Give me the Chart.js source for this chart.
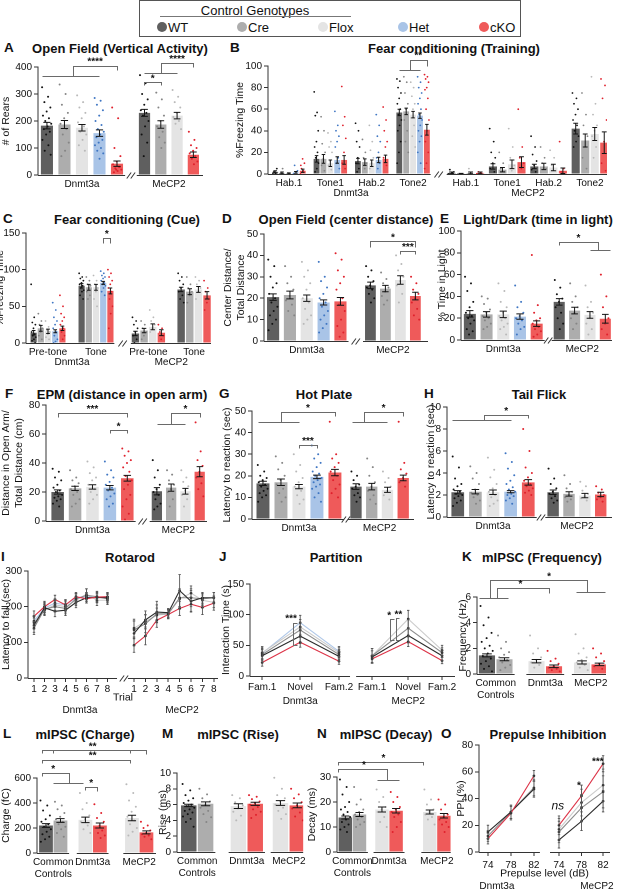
<!DOCTYPE html>
<html><head><meta charset="utf-8">
<script src="https://cdn.jsdelivr.net/npm/chart.js@4.4.1/dist/chart.umd.min.js"></script>
<style>
html,body{margin:0;padding:0;background:#fff}
body{width:617px;height:889px;position:relative;overflow:hidden;color:#111;font-family:"Liberation Sans",Arial,Helvetica,sans-serif}
canvas{position:absolute}
.ttl{position:absolute;font-weight:bold;font-size:13px;white-space:nowrap;transform:translate(-50%,-50%);line-height:1}
.let{position:absolute;font-weight:bold;font-size:13.5px;transform:translate(0,-50%);line-height:1}
#leg{position:absolute;left:139px;top:0;width:382px;height:37px;border:1px solid #555;box-sizing:border-box}
.lt{position:absolute;font-size:13px;white-space:nowrap;line-height:1;transform:translate(0,-50%)}
.ld{position:absolute;width:10px;height:10px;border-radius:50%;transform:translate(-50%,-50%)}
</style></head><body>
<div id="leg"></div>
<script>
// ================= DATA =================
const LEG_GENOS = ['WT','Cre','Flox','Het','cKO'];
const LEG_TITLE = 'Control Genotypes';
const PANEL_LETTERS = ['A','B','C','D','E','F','G','H','I','J','K','L','M','N','O'];
const PANEL_TITLES = ['Open Field (Vertical Activity)','Fear conditioning (Training)','Fear conditioning (Cue)','Open Field (center distance)','Light/Dark (time in light)','EPM (distance in open arm)','Hot Plate','Tail Flick','Rotarod','Partition','mIPSC (Frequency)','mIPSC (Charge)','mIPSC (Rise)','mIPSC (Decay)','Prepulse Inhibition'];

const GROUPS = ['Dnmt3a','MeCP2'];
const GENOS2 = [['WT','Cre','Flox','Het','cKO'],['WT','Cre','Flox','cKO']];

// A: Open field rears
const A_mean = [[183,187,175,155,42],[230,187,220,75]];
const A_err  = [[12,15,12,12,10],[13,14,12,10]];
const A_dots = [
 [[325,290,270,250,235,220,210,200,190,180,170,160,150,130,110,90,75],[335,300,260,230,210,190,170,150,120,90,70],[295,270,250,230,210,195,180,160,150,130,110,90],[285,275,260,240,220,200,185,170,160,150,140,130,120,110,100,90,80,60],[250,210,100,70,50,40,30,25,20,15,10,30,20]],
 [[370,340,300,280,260,240,230,220,200,180,150,120,70],[305,280,250,220,200,180,160,140,120,100],[315,290,270,250,230,215,200,190,170],[160,130,110,100,90,80,70,60,50,40]]
];

// B: Fear conditioning training
const B_cond = [['Hab.1','Tone1','Hab.2','Tone2'],['Hab.1','Tone1','Hab.2','Tone2']];
const B_mean = [
 [[2,1,0.5,1.5,3],[14,14,10,13,13],[12,11,10,13,14],[57,58,55,54,41]],
 [[1,0.3,1,1],[7,4,9,11],[7,7,6,3],[42,31,37,29]]
];
const B_err = [
 [[1,0.8,0.5,0.8,1.5],[3,4,3,3,4],[2.5,3,3,2.5,3.5],[3,3,3,2.5,5]],
 [[0.8,0.3,0.8,0.8],[2.5,2,4,5],[2,3,3,2.5],[5,6,6,10]]
];
const B_dots = [
 [[[0,0,2,5,1],[0,5,1],[0,0,1],[0,2,8,3],[0,3,5,10,14,8]],
  [[76,57,54,40,30,25,20,15,10,5,2],[53,40,28,20,14,8,3],[38,30,25,20,12,8,4],[58,45,40,35,30,25,15,10,5],[81,53,45,33,20,10,5]],
  [[47,40,30,25,15,10,5,2],[32,20,15,10,5],[45,30,22,15,10,5],[55,45,35,30,20,15,10,5],[62,50,40,30,25,15,8]],
  [[88,86,80,75,70,65,60,55,50,45,40,30,20,10],[90,85,75,65,60,50,40,30,20],[85,80,72,65,60,52,45,35,25],[90,85,80,75,70,65,60,55,50,45,40,35,30,20,10],[92,90,88,85,80,78,70,60,50,40,30,20,10,5]]],
 [[[0,1,4,2],[0,0],[0,1,5],[0,1,2]],
  [[42,30,20,15,10,5,2],[20,10,5,2],[42,25,15,8,3],[60,25,15,10,5]],
  [[35,25,18,12,8,4,2],[25,15,10,5],[22,15,8,3],[30,5,2]],
  [[75,70,65,60,55,50,45,40,35,30,25],[75,55,45,35,25,15,5],[90,65,55,45,40,35,25,15],[88,82,70,50,30,10,3]]]
];

// C: Fear conditioning cue
const C_cond = [['Pre-tone','Tone'],['Pre-tone','Tone']];
const C_mean = [[[14,20,16,16,20],[78,76,76,82,71]],[[13,17,22,14],[73,70,73,65]]];
const C_err  = [[[3,4,3,2,3],[3,4,4,2,4]],[[3,3,4,4],[3,4,4,5]]];
const C_dots = [
 [[[80,35,28,25,20,15,12,10,8,5,3,0],[40,30,25,20,15,10,5],[30,22,18,15,12,8,5],[55,45,35,30,25,20,15,10,5,2,0],[65,50,40,35,30,25,20,15,10,5]],
  [[95,90,88,85,82,80,78,75,72,70,65,60],[90,85,80,78,75,70,65,60],[92,85,80,75,70,60,50],[98,95,92,90,88,85,82,80,78,75,70,65],[100,95,90,85,80,75,70,60,50,40,20]]],
 [[[35,30,25,20,15,10,5,0],[30,25,20,15,10,5],[45,35,30,25,20,15],[25,20,15,10,5]],
  [[95,90,85,80,75,70,65,60,55],[90,80,75,70,65,55],[90,85,80,75,70,60],[85,75,70,60,55,45]]]
];

// D: Open field center distance
const D_mean = [[20.5,21.5,20,18,18.5],[26,24.5,28.5,21]];
const D_err  = [[1.5,1.8,1.5,1.2,1.8],[1.5,1.5,2,1.8]];
const D_dots = [
 [[38,35,30,27,25,22,20,18,16,14,12,10,8,5],[35,30,27,24,21,19,17,14,12],[37,33,30,27,24,20,18,15,12,10,8],[37,30,28,25,22,20,18,16,14,12,10,8,6,4],[41,38,33,30,27,24,20,17,14,10,7,4,2]],
 [[35,33,30,28,26,25,24,22,20,18],[32,29,27,25,23,21,19,17],[40,36,33,30,28,26,22,18],[30,27,24,22,20,18,15,12,10]]
];

// E: Light/Dark
const E_mean = [[24,23.5,23.5,21.5,15],[35,27,23,19.5]];
const E_err  = [[3,2.5,3,2.5,2.5],[3,3,3,4]];
const E_dots = [
 [[58,52,45,35,30,25,22,20,18,15,10,8,5],[40,38,33,28,25,22,20,18,15,12,10],[52,45,35,30,25,22,20,18,15,12,10,5],[50,35,30,25,22,20,18,15,12,10,5],[78,32,25,20,18,15,12,10,8,5,3]],
 [[55,48,42,38,35,30,25,20,15,10],[52,40,35,30,25,20,15,10],[50,35,30,25,20,15,10,5],[60,40,30,20,15,10,5]]
];

// F: EPM
const F_mean = [[20,22.5,23.5,23,29.5],[20.5,23,20.5,34]];
const F_err  = [[1.5,1.5,1.5,1.5,2],[2.5,2.5,2,3.5]];
const F_dots = [
 [[36,34,30,28,25,23,21,20,18,17,16,15,14,12,10],[35,30,28,26,24,22,20,18,15,12,10],[41,37,33,30,28,25,22,20,18,15,12],[41,35,32,30,27,25,23,21,19,17,15,12,10],[50,48,45,42,40,37,34,31,28,25,22,18,15,10,5,1]],
 [[42,35,30,25,22,20,18,15,12,10,8],[35,32,28,25,22,20,15,10],[35,30,27,24,21,18,15,10],[68,48,42,38,34,30,26,22,17]]
];

// G: Hot plate
const G_mean = [[16.5,17,15,19.5,21.5],[15,15,13.5,19]];
const G_err  = [[1,1.5,1,0.8,1.5],[1.3,1.5,1.2,1.3]];
const G_dots = [
 [[25,22,20,19,18,17,16,15,14,13,12,11,10,8],[29,26,23,20,18,16,14,12,10,8],[30,25,22,19,17,15,13,11,9,7],[34,30,28,26,24,22,21,20,19,18,17,16,15,14,12,10,8],[45,30,28,26,24,22,20,18,16,14,12,10]],
 [[22,20,18,16,15,14,12,11,10,8],[28,24,20,17,15,13,11,9,7],[22,19,17,15,13,11,9],[45,26,23,21,19,17,15]]
];

// H: Tail flick
const H_mean = [[2.25,2.3,2.25,2.3,3.15],[2.25,2.1,1.95,2.05]];
const H_err  = [[0.15,0.2,0.2,0.1,0.25],[0.2,0.2,0.2,0.2]];
const H_dots = [
 [[5.5,4.5,3.5,3,2.8,2.5,2.3,2.1,2,1.9,1.7,1.5,1.3,1],[4.6,4,3.5,3,2.5,2.2,2,1.8,1.5,1.2],[5.4,4.3,3.6,3,2.6,2.3,2,1.8,1.5,1.2,1],[5.8,5,4.4,3.8,3.3,3,2.7,2.5,2.3,2.1,2,1.9,1.7,1.5,1.2],[8,6,4.5,4,3.6,3.3,3,2.8,2.6,2.4,2.2,2]],
 [[4.4,3.5,3,2.6,2.3,2.1,1.9,1.7,1.5,1.3],[3.8,3,2.6,2.3,2,1.8,1.6,1.4],[3.2,2.8,2.4,2.1,1.9,1.7,1.5],[2.8,2.5,2.2,2,1.8,1.6,1.4]]
];

// I: Rotarod
const I_trials = ['1','2','3','4','5','6','7','8'];
const I_genos = [['cKO','WT','Cre','Het','Flox'],['cKO','WT','Cre','Flox']];
const I_mean = [
 [[173,200,220,205,228,222,227,228],[148,197,187,190,212,225,226,225],[140,193,200,195,222,232,228,222],[160,196,210,205,225,228,225,228],[155,190,205,200,218,235,218,218]],
 [[92,118,162,178,195,207,198,210],[125,163,185,183,245,215,225,225],[135,152,180,180,225,225,222,225],[140,158,176,180,222,238,218,212]]
];
const I_err = [
 [[15,15,12,15,12,12,12,12],[20,15,15,15,15,15,15,12],[18,15,15,15,15,18,15,12],[15,12,12,12,12,12,12,10],[18,15,15,15,15,15,15,12]],
 [[20,25,20,12,20,20,20,20],[35,25,30,12,45,30,15,15],[25,25,25,12,25,25,15,15],[25,20,20,12,25,20,15,15]]
];

// J: Partition
const J_phase = ['Fam.1','Novel','Fam.2'];
const J_genos = [['cKO','WT','Cre','Flox','Het'],['cKO','WT','Cre','Flox']];
const J_mean = [
 [[22,55,24],[33,65,32],[35,75,35],[38,80,38],[37,87,40]],
 [[28,56,25],[31,66,33],[33,78,38],[33,93,42]]
];
const J_err = [
 [[6,8,5],[10,12,8],[10,12,8],[10,12,8],[10,12,8]],
 [[6,8,5],[10,12,8],[12,14,8],[12,14,8]]
];

// K-N: mIPSC
const MI_GROUPS = [['Common','Controls'],'Dnmt3a','MeCP2'];
const MI_GENOS = [['WT','Cre'],['Flox','cKO'],['Flox','cKO']];
const K_mean = [[1.45,1.15],[1.0,0.6],[0.9,0.75]];
const K_err  = [[0.12,0.12],[0.13,0.1],[0.12,0.1]];
const K_dots = [[[5.3,4.4,3.8,3.2,2.8,2.5,2.2,2,1.8,1.6,1.4,1.2,1,0.8,0.6,0.4,0.2],[3,2.5,2,1.7,1.5,1.3,1.1,0.9,0.7,0.5,0.3]],[[3,2,1.6,1.3,1.1,0.9,0.7,0.5],[1.8,1.2,1,0.8,0.6,0.5,0.4,0.3,0.2]],[[3.1,2,1.6,1.3,1.1,0.9,0.7,0.5,0.3],[2,1.6,1.3,1,0.8,0.6,0.4]]];
const L_mean = [[220,260],[265,220],[280,165]];
const L_err  = [[15,15],[22,20],[22,12]];
const L_dots = [[[420,380,340,300,270,250,230,210,190,170,150,130,110,90],[410,380,350,320,290,270,250,230,210,190,160,130]],[[480,400,350,300,270,250,220,190,160],[390,320,280,250,220,200,180,160,140,120]],[[550,480,420,370,330,290,260,230,200,170,140],[250,220,200,180,160,150,140,130,110]]];
const M_mean = [[5.9,6.1],[5.8,6.1],[6.2,5.9]];
const M_err  = [[0.15,0.25],[0.3,0.2],[0.3,0.3]];
const M_dots = [[[8.6,7.8,7.2,6.8,6.5,6.2,6,5.8,5.6,5.4,5.2,5,4.8,4.5,4.2,3.8,3.2],[8,7.3,6.8,6.4,6,5.6,5.2,4.8,4.4,3.8]],[[7.2,6.8,6.3,5.9,5.5,5.1,4.6,4],[7.2,7,6.7,6.4,6.2,6,5.7,5.4,5.1,4.7,4.3]],[[9.4,8,7.2,6.8,6.4,6,5.6,5.2,4.8,4.2],[8,7.3,6.8,6.3,5.9,5.5,5,4.5,4]]];
const N_mean = [[13.8,15.0],[17.0,16.5],[16.0,14.5]];
const N_err  = [[0.6,0.8],[1.0,0.9],[0.8,0.9]];
const N_dots = [[[29,26,23,20,18,17,16,15,14,13,12,11,10,9,8],[26,21,19,17,16,15,14,13,12,11,10]],[[25,22,20,18,17,16,14,12,10],[24,22,20,18,17,16,15,14,12,10,8]],[[25,21,19,17,16,15,14,13,11],[21,19,17,15,14,13,12,11,10,8]]];

// O: Prepulse inhibition
const O_levels = ['74','78','82'];
const O_genos = [['cKO','WT','Cre'],['cKO','WT','Cre','Flox']];
const O_mean = [[[10,29,57],[15,30,47],[12,30,48]],[[20,42,66],[9,23,38],[15,33,45],[17,37,50]]];
const O_err  = [[[4,5,4],[5,5,6],[4,5,6]],[[7,8,6],[6,7,8],[8,10,12],[8,10,12]]];

// significance marks (bar panels: x in bar-index units; line panels: x in axis units)
const A_sig = {lines:[[[-0.3,365],[3,365]],[[1.5,365],[1.5,405],[4,405],[4,388]],[[5,377],[7,377]],[[6,377],[6,415],[8,415],[8,400]],[[5,333],[5,343],[6,343],[6,333]]], texts:[[2.75,405,'****'],[7,415,'****'],[5.5,343,'*']]};
const B_sig = {lines:[[[15,96],[18,96]],[[16.5,96],[16.5,106],[19,106],[19,100]]], texts:[[17.75,106,'**']]};
const C_sig = {lines:[[[8,136],[8,143],[9,143],[9,136]]], texts:[[8.5,143,'*']]};
const D_sig = {lines:[[[5,44],[5,46.5],[8,46.5],[8,44]],[[7,40.5],[7,42],[8,42],[8,40.5]]], texts:[[6.5,46.5,'*'],[7.5,42,'***']]};
const E_sig = {lines:[[[5,87],[5,90],[7.5,90],[7.5,83]],[[7,83],[8.3,83]]], texts:[[6.25,90,'*']]};
const F_sig = {lines:[[[0,72],[0,74.5],[4,74.5],[4,72]],[[3,60.5],[3,62.5],[4,62.5],[4,60.5]],[[5,67],[7,67]],[[6,67],[6,74.5],[8,74.5],[8,72]]], texts:[[2,74.5,'***'],[3.5,62.5,'*'],[7,74.5,'*']]};
const G_sig = {lines:[[[-0.3,45],[2,45]],[[1,45],[1,49.5],[4,49.5],[4,47.8]],[[2,33],[2,34.2],[3,34.2],[3,33]],[[4.8,45],[7,45]],[[5.5,45],[5.5,49.5],[8,49.5],[8,47.8]]], texts:[[2.5,49.5,'*'],[2.5,34.2,'***'],[6.75,49.5,'*']]};
const H_sig = {lines:[[[-0.3,8.8],[3,8.8]],[[1.5,8.8],[1.5,9.26],[4,9.26],[4,9.0]]], texts:[[2.75,9.26,'*']]};
const K_sig = {lines:[[[-0.45,5.95],[1.1,5.95]],[[0.58,5.95],[0.58,6.7],[2.72,6.7],[2.72,6.3]],[[0.17,5.95],[0.17,7.3],[4.3,7.3],[4.3,6.4]],[[3.8,6.4],[5.3,6.4]]], texts:[[1.5,6.7,'*'],[2.72,7.3,'*']]};
const L_sig = {lines:[[[-0.3,800],[-0.3,821],[5,821],[5,795]],[[0.5,821],[0.5,800]],[[3.95,821],[3.95,800]],[[-0.3,720],[-0.3,747],[3.95,747],[3.95,720]],[[-0.3,613],[-0.3,640],[1.35,640],[1.35,560]],[[0.5,560],[1.9,560]],[[2,507],[2,528],[2.8,528],[2.8,493]]], texts:[[2.5,821,'**'],[2.5,747,'**'],[0.5,640,'*'],[2.4,528,'*']]};
const N_sig = {lines:[[[-0.5,34.9],[-0.5,36],[3.81,36],[3.81,34.7]],[[-0.5,32],[-0.5,33.3],[2.37,33.3],[2.37,29]],[[1.8,29],[3.1,29]]], texts:[[2.1,36,'*'],[1.2,33.3,'*']]};
const J_sig = {lines:[[[1.24,87],[1.12,87],[1.12,50],[1.24,50]],[[3.78,92.5],[3.68,92.5],[3.68,58.6],[3.78,58.6]],[[3.93,94],[3.83,94],[3.83,58.6],[3.93,58.6]]], texts:[[1.08,87,'***'],[3.66,92.5,'*'],[3.9,94,'**']]};
const O_sig = {lines:[], texts:[[3.43,31,'ns',1],[4.35,46.7,'*'],[5.17,64.7,'***']]};

// ================= STYLE / LAYOUT =================
const BAR_COL = {WT:'#5f5f5f', Cre:'#adadad', Flox:'#e4e4e4', Het:'#a9c4e7', cKO:'#ef5a5a'};
const DOT_COL = {WT:'#111111', Cre:'#858585', Flox:'#b9b9b9', Het:'#3f76c3', cKO:'#e0202c'};
const LINE_COL = {WT:'#2a2a2a', Cre:'#8c8c8c', Flox:'#cbcbcb', Het:'#b0c8e8', cKO:'#dc3246'};
const FONT = "'Liberation Sans', Arial, Helvetica, sans-serif";
const FS = 10;
Chart.defaults.font.family = FONT;
Chart.defaults.font.size = FS;
Chart.defaults.color = '#111';
Chart.defaults.animation = false;
Chart.defaults.events = [];

(function(){
  const leg = document.getElementById('leg');
  const t = document.createElement('div'); t.className='lt'; t.textContent=LEG_TITLE; t.style.left='115px'; t.style.top='8.5px'; t.style.transform='translate(-50%,-50%)'; leg.appendChild(t);
  const u = document.createElement('div'); u.style.cssText='position:absolute;left:20px;top:15px;width:191px;height:1px;background:#777'; leg.appendChild(u);
  const LX=[22,102,183,263,344];
  LEG_GENOS.forEach((g,i)=>{
    const d=document.createElement('div'); d.className='ld'; d.style.left=LX[i]+'px'; d.style.top='25.5px'; d.style.background=BAR_COL[g]; leg.appendChild(d);
    const s=document.createElement('div'); s.className='lt'; s.textContent=g; s.style.left=(LX[i]+6)+'px'; s.style.top='26px'; leg.appendChild(s);
  });
  const TP=[[120,48],[454,48],[127,219],[346,219],[538,219],[122,394],[324,394],[539,394],[130,557],[336,557],[542,557],[85,734],[238,734],[386,734],[548,734]];
  const LP=[[4,48],[230,48],[3,219],[222,219],[440,219],[5,394],[219,394],[424,394],[1,557],[219,557],[462,557],[3,734],[162,734],[317,734],[441,734]];
  PANEL_TITLES.forEach((s,i)=>{
    const e=document.createElement('div'); e.className='ttl'; e.textContent=s; e.style.left=TP[i][0]+'px'; e.style.top=TP[i][1]+'px'; document.body.appendChild(e);
    const l=document.createElement('div'); l.className='let'; l.textContent=PANEL_LETTERS[i]; l.style.left=LP[i][0]+'px'; l.style.top=LP[i][1]+'px'; document.body.appendChild(l);
  });
})();

const DECO = new Map();
const decoPlugin = {
  id:'deco',
  afterDatasetsDraw(chart){
    const ctx=chart.ctx, ys=chart.scales.y;
    chart.data.datasets.forEach((ds,di)=>{
      if(!ds.errs) return;
      const meta=chart.getDatasetMeta(di);
      ctx.save(); ctx.strokeStyle=ds.errColor||'#151515'; ctx.lineWidth=ds.errWidth||1;
      meta.data.forEach((el,i)=>{
        const v=ds.data[i].y, e=ds.errs[i]; if(e==null) return;
        const x=el.x, y1=ys.getPixelForValue(v+e), y2=ys.getPixelForValue(v-e);
        const cw = ds.capW!=null?ds.capW:(el.width?el.width*0.3:1.5);
        ctx.beginPath(); ctx.moveTo(x,y1); ctx.lineTo(x,y2);
        ctx.moveTo(x-cw,y1); ctx.lineTo(x+cw,y1); ctx.moveTo(x-cw,y2); ctx.lineTo(x+cw,y2); ctx.stroke();
      });
      ctx.restore();
    });
  },
  afterDraw(chart){
    const d=DECO.get(chart.canvas); if(!d) return;
    const ctx=chart.ctx, xs=chart.scales.x, ys=chart.scales.y, a=chart.chartArea;
    const X=v=>xs.getPixelForValue(v), Y=v=>ys.getPixelForValue(v);
    ctx.save(); ctx.strokeStyle='#333'; ctx.lineWidth=1;
    const by=Math.round(a.bottom)+0.5;
    (d.segs||[]).forEach(([x1,x2])=>{ctx.beginPath();ctx.moveTo(Math.max(a.left,X(x1)),by);ctx.lineTo(Math.min(a.right,X(x2)),by);ctx.stroke();});
    (d.brks||[]).forEach(xb=>{const px=X(xb);ctx.beginPath();for(const dx of [-2,2]){ctx.moveTo(px+dx-2.2,by+3);ctx.lineTo(px+dx+2.2,by-3);}ctx.stroke();});
    if(d.sig){
      ctx.strokeStyle='#6a6a6a';
      d.sig.lines.forEach(pts=>{ctx.beginPath();pts.forEach(([x,y],i)=>{const px=Math.round(X(x))+0.5,py=Math.round(Y(y))+0.5;i?ctx.lineTo(px,py):ctx.moveTo(px,py);});ctx.stroke();});
      ctx.fillStyle='#111'; ctx.textAlign='center'; ctx.textBaseline='alphabetic';
      d.sig.texts.forEach(([x,y,t,it])=>{ctx.font=it?('italic 12px '+FONT):('bold 10px '+FONT);ctx.fillText(t,X(x),Y(y)-1);});
    }
    ctx.restore();
  }
};

function mkCanvas(f){
  const sx=f.xH.reduce((p,q)=>p+q,0);
  const x=f.L-f.yW, y=f.T-f.pt, w=f.R-x+f.pr, h=f.B-y+sx;
  const c=document.createElement('canvas');
  c.width=w; c.height=h; c.style.left=x+'px'; c.style.top=y+'px'; c.style.width=w+'px'; c.style.height=h+'px';
  document.body.appendChild(c); return c;
}
function axX(min,max,ticks,labels,h,extra,tickMarks,pad){
  return Object.assign({type:'linear',min,max,offset:false,bounds:'data',
    afterBuildTicks:s=>{s.ticks=ticks.map(v=>({value:v}));},
    ticks:{autoSkip:false,maxRotation:0,minRotation:0,padding:pad!=null?pad:3,color:'#111',font:{size:FS},callback:(v,i)=>labels[i]},
    grid:tickMarks?{display:true,drawOnChartArea:false,drawTicks:true,tickLength:4,color:'#333',offset:false}:{display:false,drawTicks:false,tickLength:0,offset:false},
    border:{display:false},
    afterFit:s=>{s.height=h;}}, extra||{});
}
function axY(y,w){
  return {type:'linear',min:y.min,max:y.max,bounds:'data',
    ticks:{stepSize:y.step,padding:2,color:'#111',font:{size:FS}},
    grid:{drawOnChartArea:false,tickLength:4,color:'#333'}, border:{color:'#333'},
    title:{display:!!y.title,text:y.title,color:'#111',font:{size:10.5},padding:{top:0,bottom:1}},
    afterFit:s=>{s.width=w;}};
}
function jit(k){return ((k*0.6180339)%1)-0.5;}
function baseOpts(f,scales){
  return {responsive:false,devicePixelRatio:2,layout:{padding:{top:f.pt,right:f.pr,left:0,bottom:0}},scales,
    plugins:{legend:{display:false},tooltip:{enabled:false}}};
}

// bar panel: layout {starts, bs (bar step), cs (cluster step)} in bar units
function barPanel(P){
  const Lw=P.lay, pos=[], groupsBars=[], dots=[], dcols=[], cT=[], cL=[], gT=[], gF=[], gL=[];
  P.groups.forEach((g,gi)=>{
    const cls=P.clusters?P.clusters[gi]:[null];
    const gp=[], gb=[], bs=Lw.bs[gi];
    cls.forEach((c,ci)=>{
      const base=Lw.starts[gi]+ci*(Lw.cs?Lw.cs[gi]:0);
      const m=P.clusters?P.mean[gi][ci]:P.mean[gi];
      const e=P.clusters?P.err[gi][ci]:P.err[gi];
      const dd=P.clusters?P.dots[gi][ci]:P.dots[gi];
      const cp=[];
      P.genos[gi].forEach((gn,bi)=>{
        const x=base+bi*bs; pos.push(x); cp.push(x); gp.push(x);
        gb.push({x,y:m[bi],e:e[bi],col:BAR_COL[gn]});
        (dd[bi]||[]).forEach((v,k)=>{dots.push({x:x+jit(k)*P.bw*bs*0.8,y:v}); dcols.push(DOT_COL[gn]);});
      });
      if(c!=null){cT.push((cp[0]+cp[cp.length-1])/2); cL.push(c);}
    });
    groupsBars.push(gb);
    gT.push((gp[0]+gp[gp.length-1])/2); gF.push(gp[0]); gL.push(gp[gp.length-1]);
  });
  let minStep=Infinity; for(let i=1;i<pos.length;i++){const d=pos[i]-pos[i-1]; if(d>1e-6&&d<minStep)minStep=d;}
  const n=pos.length;
  const bx=i=>{ if(i<=0) return pos[0]+i; if(i>=n-1) return pos[n-1]+(i-n+1); const f=Math.floor(i); return pos[f]+(i-f)*(pos[f+1]-pos[f]); };
  const xmin=pos[0]-P.pad[0], xmax=pos[n-1]+P.pad[1];
  const f=P.f, c=mkCanvas(f);
  const scales={y:axY(P.y,f.yW)};
  if(P.clusters){ scales.x=axX(xmin,xmax,cT,cL,f.xH[0]); scales.x2=axX(xmin,xmax,gT,P.groups,f.xH[1],{weight:1},false,0); }
  else scales.x=axX(xmin,xmax,gT,P.groups,f.xH[0]);
  const segs=[], brks=[];
  P.groups.forEach((g,gi)=>{
    const hw=0.5*P.bw*Lw.bs[gi]+0.12;
    const a=gi===0?xmin:gF[gi]-hw, b=gi===P.groups.length-1?xmax:gL[gi]+hw;
    segs.push([a,b]);
    if(P.brk && gi<P.groups.length-1) brks.push((gL[gi]+0.5*P.bw*Lw.bs[gi]+gF[gi+1]-0.5*P.bw*Lw.bs[gi+1])/2);
  });
  const sig=P.sig?{lines:P.sig.lines.map(l=>l.map(([x,y])=>[bx(x),y])),texts:P.sig.texts.map(([x,y,t,it])=>[bx(x),y,t,it])}:null;
  DECO.set(c,{segs,brks,sig});
  const ds=groupsBars.map((gb,gi)=>({type:'bar',grouped:false,data:gb.map(b=>({x:b.x,y:b.y})),backgroundColor:gb.map(b=>b.col),borderWidth:0,
      barPercentage:P.bw*Lw.bs[gi]/minStep,categoryPercentage:1,errs:gb.map(b=>b.e),order:2}));
  ds.push({type:'scatter',data:dots,pointRadius:P.dr||1,pointBackgroundColor:dcols,pointBorderWidth:0,order:1});
  new Chart(c,{type:'bar',data:{datasets:ds},options:baseOpts(f,scales),plugins:[decoPlugin]});
}

function linePanel(P){
  const f=P.f, c=mkCanvas(f);
  const scales={y:axY(P.y,f.yW)};
  scales.x=axX(P.xmin,P.xmax,P.ticks,P.tickLabels,f.xH[0],P.xTitle?{title:{display:true,text:P.xTitle,color:'#111',font:{size:10.5},padding:{top:0,bottom:0}}}:null,true,P.tp!=null?P.tp:1);
  scales.x2=axX(P.xmin,P.xmax,P.gTicks,P.gLabels,f.xH[1],{weight:1},false,0);
  const ds=P.series.map((s,i)=>({type:'line',data:s.pos.map((x,k)=>({x,y:s.vals[k]})),borderColor:LINE_COL[s.geno],borderWidth:1.1,
    pointRadius:1.3,pointBackgroundColor:'#1a1a1a',pointBorderWidth:0,tension:0,fill:false,errs:s.errs,errColor:'#555',errWidth:0.9,capW:1.2,order:i}));
  DECO.set(c,{segs:P.segs,brks:P.brks,sig:P.sig});
  new Chart(c,{type:'line',data:{datasets:ds},options:baseOpts(f,scales),plugins:[decoPlugin]});
}
function seriesFrom(genos,mean,err,posArr){
  const out=[];
  genos.forEach((gg,gi)=>gg.forEach((g,k)=>out.push({geno:g,pos:posArr[gi],vals:mean[gi][k],errs:err[gi][k]})));
  return out.sort((a,b)=>(a.geno==='cKO'?0:1)-(b.geno==='cKO'?0:1));
}

// ================= PANELS =================
barPanel({f:{L:38,T:67,R:203,B:175,yW:38,xH:[16],pt:14,pr:4},groups:GROUPS,genos:GENOS2,mean:A_mean,err:A_err,dots:A_dots,
  y:{min:0,max:400,step:100,title:'# of Rears'},lay:{starts:[0,5.57],bs:[1,0.93]},bw:0.69,pad:[0.51,0.55],brk:true,sig:A_sig});
barPanel({f:{L:268,T:66,R:607,B:174,yW:34,xH:[13,13],pt:16,pr:6},groups:GROUPS,clusters:B_cond,genos:GENOS2,mean:B_mean,err:B_err,dots:B_dots,
  y:{min:0,max:100,step:20,title:'%Freezing Time'},lay:{starts:[0,25.58],bs:[1,1.38],cs:[6,6]},bw:0.85,pad:[1.04,0.4],brk:true,sig:B_sig,dr:0.9});
barPanel({f:{L:26,T:233,R:211,B:343,yW:32,xH:[13,13],pt:12,pr:4},groups:GROUPS,clusters:C_cond,genos:GENOS2,mean:C_mean,err:C_err,dots:C_dots,
  y:{min:0,max:150,step:50,title:'%Freezing Time'},lay:{starts:[0,14.15],bs:[1,1.2],cs:[6.67,6.35]},bw:0.86,pad:[1.06,0.55],brk:true,sig:C_sig,dr:0.9});
barPanel({f:{L:264,T:234,R:428,B:341,yW:42,xH:[16],pt:10,pr:4},groups:GROUPS,genos:GENOS2,mean:D_mean,err:D_err,dots:D_dots,
  y:{min:0,max:50,step:10,title:['Center Distance/','Total Distance']},lay:{starts:[0,5.78],bs:[1,0.89]},bw:0.72,pad:[0.54,0.75],brk:true,sig:D_sig});
barPanel({f:{L:461,T:231,R:614,B:340,yW:25,xH:[16],pt:10,pr:2},groups:GROUPS,genos:GENOS2,mean:E_mean,err:E_err,dots:E_dots,
  y:{min:0,max:100,step:20,title:'% Time in Light'},lay:{starts:[0,5.35],bs:[1,0.92]},bw:0.72,pad:[0.53,0.4],brk:true,sig:E_sig});
barPanel({f:{L:46,T:405,R:207,B:521,yW:46,xH:[16],pt:10,pr:4},groups:GROUPS,genos:GENOS2,mean:F_mean,err:F_err,dots:F_dots,
  y:{min:0,max:80,step:20,title:['Distance in Open Arm/','Total Distance (cm)']},lay:{starts:[0,5.7],bs:[1,0.82]},bw:0.72,pad:[0.67,0.42],brk:true,sig:F_sig});
barPanel({f:{L:252,T:411,R:414,B:519,yW:31,xH:[16],pt:10,pr:4},groups:GROUPS,genos:GENOS2,mean:G_mean,err:G_err,dots:G_dots,
  y:{min:0,max:50,step:10,title:'Latency to reaction (sec)'},lay:{starts:[0,5.17],bs:[1,0.875]},bw:0.72,pad:[0.61,0.6],brk:true,sig:G_sig});
barPanel({f:{L:447,T:407,R:612,B:517,yW:22,xH:[16],pt:10,pr:4},groups:GROUPS,genos:GENOS2,mean:H_mean,err:H_err,dots:H_dots,
  y:{min:0,max:10,step:2,title:'Latency to reaction (sec)'},lay:{starts:[0,5.41],bs:[1,0.9]},bw:0.72,pad:[0.61,0.64],brk:true,sig:H_sig});

// I rotarod
(function(){
  const pD=I_trials.map((t,k)=>0.57+k), pM=I_trials.map((t,k)=>10.1+k*1.086);
  linePanel({f:{L:28,T:571,R:218,B:678,yW:28,xH:[26,13],pt:8,pr:4},xmin:0,xmax:18.1,
    ticks:pD.concat(pM),tickLabels:I_trials.concat(I_trials),xTitle:'Trial',
    gTicks:[4.95,14.67],gLabels:GROUPS,
    y:{min:0,max:300,step:100,title:'Latency to fall (sec)'},
    series:seriesFrom(I_genos,I_mean,I_err,[pD,pM]),segs:[[0,8.48],[9.52,18.1]],brks:[9.14],sig:null});
})();
// J partition
(function(){
  const pD=[0.32,1.32,2.34], pM=[3.21,4.16,5.05];
  linePanel({f:{L:250,T:584,R:455,B:676,yW:30,xH:[19,14],pt:8,pr:4},xmin:0,xmax:5.39,
    ticks:pD.concat(pM),tickLabels:J_phase.concat(J_phase),
    gTicks:[pD[1],pM[1]],gLabels:GROUPS,
    y:{min:0,max:150,step:50,title:'Interaction Time (s)'},
    series:seriesFrom(J_genos,J_mean,J_err,[pD,pM]),segs:[[0,2.63],[2.79,5.39]],brks:[],sig:J_sig});
})();
// K-N
barPanel({f:{L:477,T:597,R:606,B:674,yW:20,xH:[28],pt:26,pr:6},groups:MI_GROUPS,genos:MI_GENOS,mean:K_mean,err:K_err,dots:K_dots,
  y:{min:0,max:6,step:2,title:'Frequency (Hz)'},lay:{starts:[0,2.83,5.43],bs:[1,1,1]},bw:0.92,pad:[0.57,0.37],brk:false,sig:K_sig});
barPanel({f:{L:37,T:778,R:156,B:853,yW:37,xH:[28],pt:42,pr:4},groups:MI_GROUPS,genos:MI_GENOS,mean:L_mean,err:L_err,dots:L_dots,
  y:{min:0,max:600,step:200,title:'Charge (fC)'},lay:{starts:[0,2.72,5.93],bs:[1,1,1]},bw:0.95,pad:[0.62,0.66],brk:false,sig:L_sig});
barPanel({f:{L:177,T:773,R:305,B:852,yW:20,xH:[28],pt:8,pr:4},groups:MI_GROUPS,genos:MI_GENOS,mean:M_mean,err:M_err,dots:M_dots,
  y:{min:0,max:10,step:2,title:'Rise (ms)'},lay:{starts:[0,2.95,5.45],bs:[1,1,1]},bw:0.92,pad:[0.7,0.35],brk:false,sig:null});
barPanel({f:{L:337,T:777,R:453,B:852,yW:31,xH:[28],pt:24,pr:4},groups:MI_GROUPS,genos:MI_GENOS,mean:N_mean,err:N_err,dots:N_dots,
  y:{min:0,max:30,step:10,title:'Decay (ms)'},lay:{starts:[0,2.59,5.97],bs:[1,1,1]},bw:0.95,pad:[0.59,0.48],brk:false,sig:N_sig});
// O PPI
(function(){
  const pD=[0.39,1.39,2.39], pM=[3.48,4.46,5.4];
  linePanel({f:{L:479,T:743,R:610,B:852,yW:24,xH:[28,9],pt:6,pr:4},xmin:0,xmax:5.7,tp:3,
    ticks:pD.concat(pM),tickLabels:O_levels.concat(O_levels),xTitle:'Prepulse level (dB)',
    gTicks:[0.78,5.13],gLabels:GROUPS,
    y:{min:0,max:80,step:20,title:'PPI (%)'},
    series:seriesFrom(O_genos,O_mean,O_err,[pD,pM]),segs:[[0,2.65],[3.09,5.7]],brks:[],sig:O_sig});
})();
</script>
</body></html>
